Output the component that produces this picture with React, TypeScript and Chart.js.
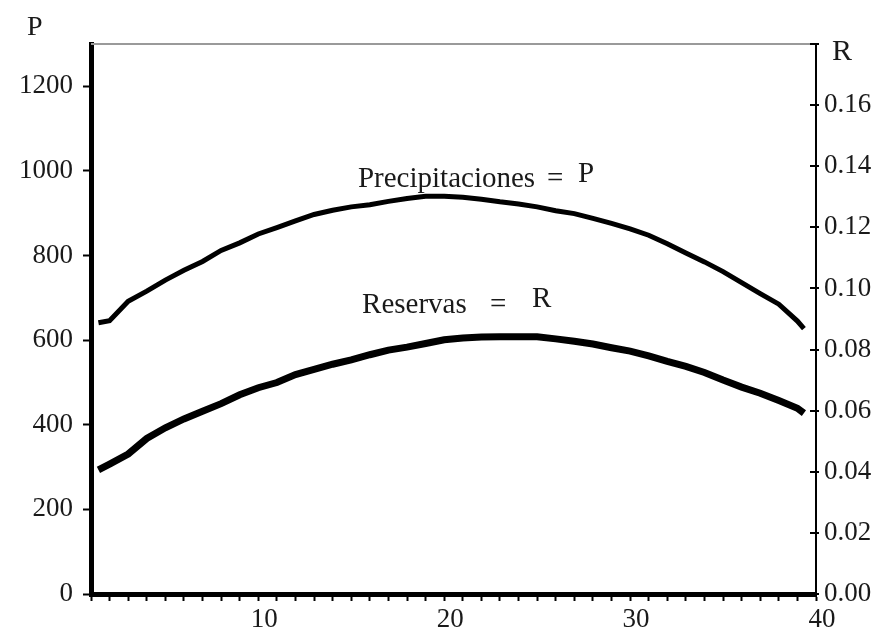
import React, { useEffect, useRef } from 'react';
import { Chart, registerables } from 'chart.js';

Chart.register(...registerables);

// x position along the horizontal axis
const X_VALUES = [1.4, 2, 3, 4, 5, 6, 7, 8, 9, 10, 11, 12, 13, 14, 15, 16, 17, 18, 19, 20,
  21, 22, 23, 24, 25, 26, 27, 28, 29, 30, 31, 32, 33, 34, 35, 36, 37, 38, 39, 39.35];

// Precipitaciones (left axis, P)
const P_VALUES = [641, 646, 692, 716, 742, 765, 786, 812, 830, 851, 866, 882, 897, 907, 915, 920,
  928, 935, 940, 940, 938, 933, 927, 922, 915, 906, 899, 888, 876, 863, 848, 828, 806, 785, 762,
  736, 710, 685, 645, 627];

// Reservas (right axis, R)
const R_VALUES = [0.0406, 0.0425, 0.0458, 0.0509, 0.0544, 0.0573, 0.0598, 0.0623, 0.0652, 0.0675,
  0.0692, 0.0718, 0.0735, 0.0752, 0.0766, 0.0783, 0.0798, 0.0808, 0.0820, 0.0832, 0.0838, 0.0841,
  0.0842, 0.0842, 0.0842, 0.0835, 0.0827, 0.0818, 0.0806, 0.0795, 0.0779, 0.0761, 0.0745, 0.0725,
  0.0700, 0.0677, 0.0657, 0.0633, 0.0608, 0.0592];

const X_MIN = 1;
const X_MAX = 40;
const X_LABELS = [10, 20, 30, 40];
const P_MAX = 1300;
const P_TICKS = [0, 200, 400, 600, 800, 1000, 1200];
const R_MAX = 0.18;
const R_TICKS = [0, 0.02, 0.04, 0.06, 0.08, 0.1, 0.12, 0.14, 0.16, 0.18];
const R_LABEL_LIMIT = 0.165;

const FONT = "'Liberation Serif', 'Times New Roman', serif";
const TEXT_COLOR = '#1a1a1a';

const decorPlugin = {
  id: 'decor',
  afterDraw(chart: any) {
    const { ctx, chartArea: a, scales } = chart;
    const xs = scales.x;
    const ys = scales.y;
    ctx.save();
    // top frame line (gray)
    ctx.strokeStyle = '#9a9a9a';
    ctx.lineWidth = 2;
    ctx.beginPath();
    ctx.moveTo(a.left, a.top);
    ctx.lineTo(a.right, a.top);
    ctx.stroke();
    // right axis ticks (crossing inward)
    ctx.strokeStyle = '#000';
    ctx.lineWidth = 2;
    scales.y1.ticks.forEach((t: any) => {
      const y = Math.round(scales.y1.getPixelForValue(t.value));
      ctx.beginPath();
      ctx.moveTo(a.right - 6, y);
      ctx.lineTo(a.right + 3, y);
      ctx.stroke();
    });
    // axis titles
    ctx.fillStyle = TEXT_COLOR;
    ctx.textAlign = 'left';
    ctx.textBaseline = 'alphabetic';
    ctx.font = `28px ${FONT}`;
    ctx.fillText('P', a.left - 64, a.top - 9);
    ctx.font = `30px ${FONT}`;
    ctx.fillText('R', a.right + 16, a.top + 16);
    // curve labels
    ctx.font = `29px ${FONT}`;
    const put = (txt: string, xv: number, yv: number) =>
      ctx.fillText(txt, xs.getPixelForValue(xv), ys.getPixelForValue(yv));
    put('Precipitaciones', 15.36, 962);
    put('=', 25.53, 962);
    put('P', 27.2, 974);
    put('Reservas', 15.58, 664);
    put('=', 22.46, 664);
    put('R', 24.72, 678);
    ctx.restore();
  },
};

export default function App() {
  const ref = useRef<HTMLCanvasElement | null>(null);

  useEffect(() => {
    if (!ref.current) return;
    const chart = new Chart(ref.current, {
      type: 'line',
      data: {
        datasets: [
          {
            label: 'Precipitaciones',
            data: X_VALUES.map((x, i) => ({ x, y: P_VALUES[i] })),
            yAxisID: 'y',
            borderColor: '#000',
            borderWidth: 5,
            pointRadius: 0,
            tension: 0,
            fill: false,
          },
          {
            label: 'Reservas',
            data: X_VALUES.map((x, i) => ({ x, y: R_VALUES[i] })),
            yAxisID: 'y1',
            borderColor: '#000',
            borderWidth: 7,
            pointRadius: 0,
            tension: 0,
            fill: false,
          },
        ],
      },
      options: {
        responsive: false,
        animation: false,
        layout: { padding: { top: 44, left: 0, right: 0, bottom: 0 } },
        plugins: { legend: { display: false }, tooltip: { enabled: false }, title: { display: false } },
        scales: {
          x: {
            type: 'linear',
            min: X_MIN,
            max: X_MAX,
            afterFit: (s: any) => { s.height = 41; },
            ticks: {
              stepSize: 1,
              autoSkip: false,
              maxRotation: 0,
              padding: 3,
              labelOffset: 6,
              color: TEXT_COLOR,
              font: { family: FONT, size: 27 },
              callback: (v: any) => (X_LABELS.includes(Number(v)) ? String(v) : ''),
            },
            grid: { drawOnChartArea: false, drawTicks: true, tickLength: 7, tickWidth: 2, tickColor: '#000' },
            border: { display: true, color: '#000', width: 5 },
          },
          y: {
            type: 'linear',
            position: 'left',
            min: 0,
            max: P_MAX,
            afterBuildTicks: (s: any) => { s.ticks = P_TICKS.map((v) => ({ value: v })); },
            afterFit: (s: any) => { s.width = 91; },
            ticks: {
              padding: 10,
              color: TEXT_COLOR,
              font: { family: FONT, size: 27 },
              callback: (v: any) => String(v),
            },
            grid: { drawOnChartArea: false, drawTicks: true, tickLength: 8, tickWidth: 2, tickColor: '#000' },
            border: { display: true, color: '#000', width: 5 },
          },
          y1: {
            type: 'linear',
            position: 'right',
            min: 0,
            max: R_MAX,
            afterBuildTicks: (s: any) => { s.ticks = R_TICKS.map((v) => ({ value: v })); },
            afterFit: (s: any) => { s.width = 70; },
            ticks: {
              padding: 8,
              color: TEXT_COLOR,
              font: { family: FONT, size: 27 },
              callback: (v: any) => (Number(v) > R_LABEL_LIMIT ? '' : Number(v).toFixed(2)),
            },
            grid: { drawOnChartArea: false, drawTicks: false },
            border: { display: true, color: '#000', width: 2 },
          },
        },
      },
      plugins: [decorPlugin],
    });
    return () => chart.destroy();
  }, []);

  return (
    <div style={{ position: 'absolute', left: 0, top: 0, width: 886, height: 635, background: '#fff' }}>
      <canvas ref={ref} width={886} height={635} style={{ display: 'block' }} />
    </div>
  );
}
